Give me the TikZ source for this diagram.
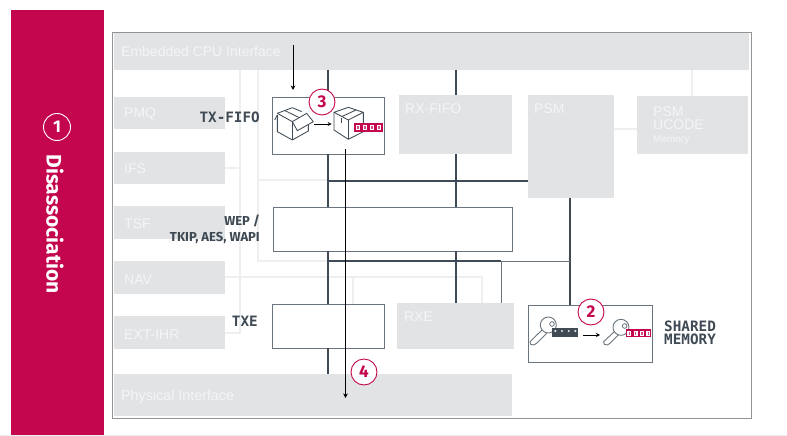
\documentclass[tikz,border=0pt]{standalone}
\usepackage{fontspec}
\setmainfont{Liberation Sans}
\newfontfamily\plex{Fira Sans}
\newfontfamily\mono{DejaVu Sans Mono}
\usetikzlibrary{arrows.meta}
\definecolor{crim}{HTML}{C4064E}
\definecolor{blk}{HTML}{E2E3E5}
\definecolor{lin}{HTML}{EEEFF0}
\definecolor{dark}{HTML}{3F4A54}
\definecolor{edge}{HTML}{6B747C}
\definecolor{wtxt}{HTML}{F4F5F5}
\tikzset{
  x=1pt,y=-1pt,
  greyblock/.style={fill=blk,draw=none,anchor=north west,inner sep=0pt},
  whitebox/.style={draw=edge,line width=0.9pt,fill=white,anchor=north west,inner sep=0pt},
  bus/.style={draw=dark,line width=1.8pt},
  light/.style={draw=lin,line width=1.2pt},
  thinbus/.style={draw=edge,line width=1pt},
  blocktext/.style={text=wtxt,font=\fontsize{14}{14}\selectfont,anchor=west,inner sep=0pt},
  monolabel/.style={text=dark,font=\mono\bfseries\fontsize{14.3}{13}\selectfont,inner sep=0pt,align=left},
  sanslabel/.style={text=dark,font=\plex\bfseries\fontsize{13}{16}\selectfont,inner sep=0pt,align=right},
  flow/.style={draw=black,line width=0.7pt,-{Stealth[length=4.5pt,width=4.5pt]}},
  badge/.style={circle,draw=crim,fill=white,line width=0.9pt,minimum size=26pt,inner sep=0pt,text=crim,font=\plex\bfseries\fontsize{17}{17}\selectfont},
  icon/.style={draw=dark,line width=0.85pt,line join=round},
  keyline/.style={draw=edge,line width=0.9pt,line join=round,fill=white},
}
\begin{document}
\begin{tikzpicture}
\useasboundingbox (0,0) rectangle (787,436);
\fill[white] (0,0) rectangle (787,436);
\draw[draw=lin,line width=1pt] (0,435.5) -- (787,435.5);
\fill[crim] (11,10) rectangle (104,435);
\draw[draw=gray!85,line width=0.8pt,fill=white] (112.5,32.5) rectangle (751,418);

% light connectors
\coordinate (lA) at (240,70); \coordinate (lB) at (240,333); \coordinate (lC) at (225,333);
\draw[light] (lA) -- (lB) -- (lC);
\draw[light] (225,168) -- (240,168);
\draw[light] (258,70) -- (258,261) -- (328,261);
\draw[light] (258,180) -- (328,180);
\draw[light] (225,277) -- (482,277) -- (482,303);
\draw[light] (353,277) -- (353,304);
\draw[light] (692,70) -- (692,96);
\draw[light] (614,129) -- (637,129);

% grey blocks
\node[greyblock,minimum width=635pt,minimum height=37pt] (cpu) at (114,33) {};
\node[greyblock,minimum width=111pt,minimum height=32pt] (pmq) at (114,97) {};
\node[greyblock,minimum width=111pt,minimum height=32pt] (ifs) at (114,152) {};
\node[greyblock,minimum width=111pt,minimum height=33pt] (tsf) at (114,206) {};
\node[greyblock,minimum width=111pt,minimum height=33pt] (nav) at (114,261) {};
\node[greyblock,minimum width=111pt,minimum height=33pt] (ext) at (114,316) {};
\node[greyblock,minimum width=398pt,minimum height=42pt] (phy) at (114,374) {};
\node[greyblock,minimum width=113pt,minimum height=59pt] (rxf) at (399,95) {};
\node[greyblock,minimum width=86pt,minimum height=103pt] (psm) at (528,95) {};
\node[greyblock,minimum width=111pt,minimum height=58pt] (uc) at (637,96) {};
\node[greyblock,minimum width=117pt,minimum height=46pt] (rxe) at (397,303) {};

% white boxes
\node[whitebox,minimum width=111.5pt,minimum height=56.5pt] (txf) at (272,97) {};
\node[whitebox,minimum width=238.5pt,minimum height=43.5pt] (wep) at (273,207) {};
\node[whitebox,minimum width=111.5pt,minimum height=43.5pt] (txe) at (272,304) {};
\node[whitebox,minimum width=124pt,minimum height=57pt] (shm) at (528,305) {};

% dark buses
\draw[bus] (328,70) -- (328,97);
\draw[bus] (328,154) -- (328,207);
\draw[bus] (328,251) -- (328,304);
\draw[bus] (328,348) -- (328,374);
\draw[bus] (456,70) -- (456,95);
\draw[bus] (456,154) -- (456,207);
\draw[bus] (456,251) -- (456,303);
\draw[bus] (328,181) -- (528,181);
\draw[bus] (570,198) -- (570,305);
\draw[bus] (328,261) -- (501,261);
\draw[thinbus] (501,261) -- (570,261);
\draw[thinbus] (501,261) -- (501,303);

% flows
\coordinate (inTop) at (293,45);
\coordinate (inEnd) at (293,90);
\coordinate (outTop) at (345.5,149);
\coordinate (outEnd) at (345.5,398);
\draw[flow] (inTop) -- (inEnd);
\draw[flow] (outTop) -- (outEnd);

% block labels
\node[blocktext] at (121,51) {Embedded CPU Interface};
\node[blocktext] at (124,114) {PMQ};
\node[blocktext] at (124,169) {IFS};
\node[blocktext] at (124,224) {TSF};
\node[blocktext] at (124,280) {NAV};
\node[blocktext] at (124,335) {EXT-IHR};
\node[blocktext,font=\fontsize{14.3}{14}\selectfont] at (121,397) {Physical Interface};
\node[blocktext] at (405,109) {RX-FIFO};
\node[blocktext] at (534,109) {PSM};
\node[blocktext] at (404,317) {RXE};
\node[blocktext,align=left,font=\fontsize{14}{13}\selectfont] at (653,118) {PSM\\UCODE};
\node[blocktext,font=\fontsize{10}{10}\selectfont] at (653,140) {Memory};

% dark labels
\node[monolabel,anchor=east] at (260,117) {TX-FIFO};
\node[sanslabel,anchor=east] at (260,229) {WEP /\\TKIP, AES, WAPI};
\node[monolabel,anchor=east] at (258,321) {TXE};
\node[monolabel,anchor=west] at (664,332.5) {SHARED\\MEMORY};

% open box icon (TX-FIFO)
\begin{scope}[shift={(260,70)},x=0.3333pt,y=-0.3333pt]
\draw[icon] (52,135) -- (52,185) -- (97,210) -- (145,183) -- (145,165);
\draw[icon] (97,155) -- (97,210);
\draw[icon] (52,130) -- (97,113) -- (125,125);
\draw[icon] (52,130) -- (97,155) -- (140,130) -- (160,155) -- (112,182) -- (97,155);
\draw[icon] (75,122) -- (118,143);
\draw[icon] (52,135) -- (44,150);
\draw[draw=black,line width=0.8pt,-{Stealth[length=4pt,width=4pt]}] (162,162) -- (215,162);
% closed box
\draw[icon] (222,127) -- (265,112) -- (310,127) -- (265,150) -- cycle;
\draw[icon] (222,127) -- (222,180) -- (265,208) -- (310,185) -- (310,127);
\draw[icon] (265,150) -- (265,208);
\draw[icon] (245,145) -- (245,160);
\draw[icon] (288,120) -- (245,140);
\fill[crim] (283,160) rectangle (368,186);
\foreach \cx in {294,315,336,357}{
  \fill[white] (\cx-6,165) rectangle (\cx+6,181);
  \fill[crim!70] (\cx-2,169) rectangle (\cx+2,177);
}
\end{scope}

% keys
\begin{scope}[shift={(520,290)},x=0.3333pt,y=-0.3333pt]
\draw[keyline] (68,118) -- (30,155) -- (32,163) -- (42,165) -- (52,158) -- (80,130);
\draw[keyline] (85,105) circle (24);
\draw[draw=edge,line width=0.8pt,fill=white] (96,102) circle (7);
\fill[dark] (95,115) rectangle (175,140);
\foreach \cx in {106,126,146,166}{
  \fill[white!85!dark] (\cx,123) circle (3.5);
}
\draw[draw=black,line width=0.8pt,-{Stealth[length=4pt,width=4pt]}] (190,135) -- (240,135);
\draw[keyline] (286,122) -- (251,155) -- (253,163) -- (263,165) -- (272,158) -- (298,132);
\draw[keyline] (303,112) circle (24);
\draw[draw=edge,line width=0.8pt,fill=white] (314,108) circle (7);
\fill[crim] (318,118) rectangle (393,142);
\foreach \cx in {328,347,366,385}{
  \fill[white] (\cx-6,122) rectangle (\cx+6,138);
  \fill[crim!70] (\cx-2,126) rectangle (\cx+2,134);
}
\end{scope}

% badges
\node[badge,draw=white,fill=none,text=white,minimum size=27pt] (b1) at (57,127) {1};
\node[badge] (b2) at (591,312) {2};
\node[badge] (b3) at (322,102) {3};
\node[badge] (b4) at (364,372) {4};
\node[rotate=-90,text=white,font=\plex\bfseries\fontsize{21}{21}\selectfont,inner sep=0pt] (dis) at (55,224) {Disassociation};
\end{tikzpicture}
\end{document}
